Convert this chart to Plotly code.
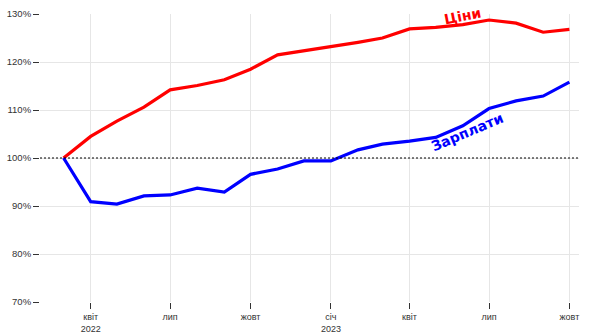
import plotly.graph_objects as go

months = ["2022-03-01", "2022-04-01", "2022-05-01", "2022-06-01", "2022-07-01", "2022-08-01",
          "2022-09-01", "2022-10-01", "2022-11-01", "2022-12-01", "2023-01-01", "2023-02-01",
          "2023-03-01", "2023-04-01", "2023-05-01", "2023-06-01", "2023-07-01", "2023-08-01",
          "2023-09-01", "2023-10-01"]
prices = [100, 104.5, 107.7, 110.6, 114.2, 115.1, 116.3, 118.5, 121.5, 122.3, 123.2, 124.1,
          125.0, 126.9, 127.2, 127.8, 128.75, 128.1, 126.2, 126.8]
wages = [100, 90.9, 90.4, 92.1, 92.3, 93.7, 92.9, 96.6, 97.7, 99.4, 99.4, 101.7,
         102.9, 103.5, 104.3, 106.7, 110.3, 111.9, 112.9, 115.8]

tick_vals = ["2022-04-01", "2022-07-01", "2022-10-01", "2023-01-01", "2023-04-01", "2023-07-01", "2023-10-01"]
tick_text = ["квіт<br>2022", "лип", "жовт", "січ<br>2023", "квіт", "лип", "жовт"]
y_ticks = [70, 80, 90, 100, 110, 120, 130]
y_text = [f"{v}%" for v in y_ticks]

fig = go.Figure()
fig.add_trace(go.Scatter(x=months, y=prices, mode="lines", line=dict(color="#ff0000", width=3.2),
                         name="Ціни", hoverinfo="skip"))
fig.add_trace(go.Scatter(x=months, y=wages, mode="lines", line=dict(color="#0000ff", width=3.2),
                         name="Зарплати", hoverinfo="skip"))

fig.add_shape(type="line", xref="paper", yref="y", x0=0, x1=1, y0=100, y1=100,
              line=dict(color="black", width=1, dash="2px,2px"), layer="above")

fig.add_annotation(x="2023-06-01", xref="x", y=1.042, yref="paper", text="<b>Ціни</b>",
                   showarrow=False, textangle=-11,
                   font=dict(family="DejaVu Sans", size=14, color="#ff0000"))
fig.add_annotation(x="2023-06-06", y=105.4, text="<b>Зарплати</b>", showarrow=False, textangle=-23,
                   font=dict(family="DejaVu Sans", size=14, color="#0000ff"))

fig.update_layout(
    width=592, height=332,
    margin=dict(l=40, r=13, t=14, b=30),
    paper_bgcolor="white", plot_bgcolor="white",
    showlegend=False,
    font=dict(family="Liberation Sans", size=9, color="#333"),
    xaxis=dict(range=["2022-02-02", "2023-10-12"], tickmode="array", tickvals=tick_vals,
               ticktext=tick_text, ticks="outside", ticklen=6, tickcolor="#333",
               showgrid=True, gridcolor="#e6e6e6", gridwidth=1, showline=False, zeroline=False,
               automargin=False, tickfont=dict(size=9, color="#333")),
    yaxis=dict(range=[70, 130], tickmode="array", tickvals=y_ticks, ticktext=y_text,
               ticks="outside", ticklen=6, tickcolor="#333", showgrid=True, gridcolor="#e6e6e6",
               gridwidth=1, showline=False, zeroline=False, automargin=False,
               tickfont=dict(size=9.5, color="#333")),
)

fig.write_html("out.html")
